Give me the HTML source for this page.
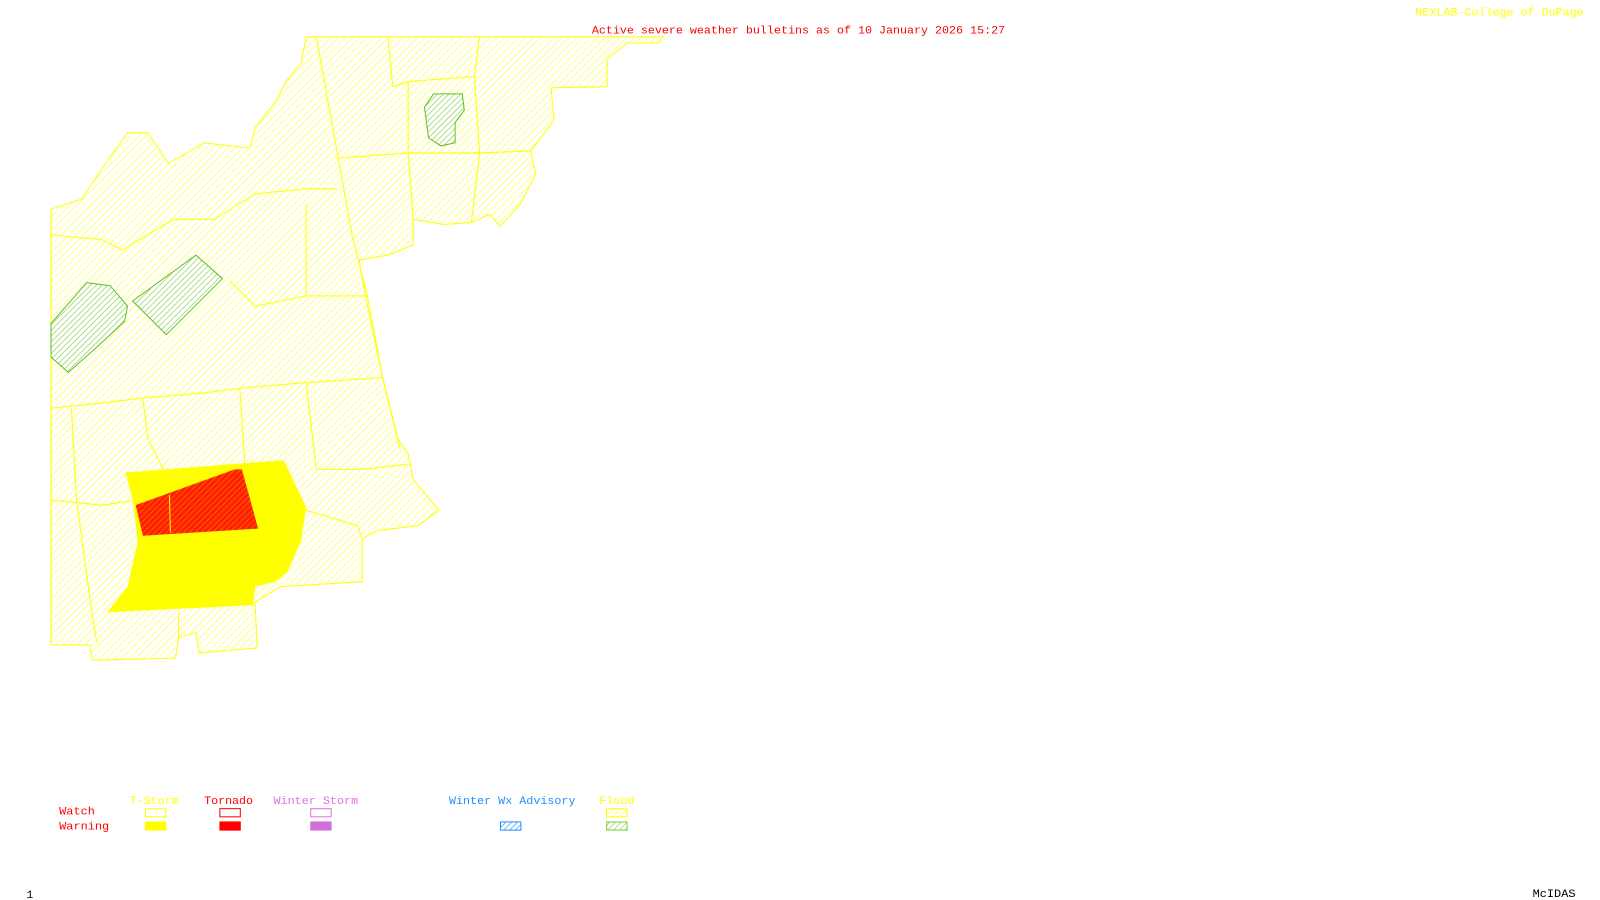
<!DOCTYPE html>
<html><head><meta charset="utf-8"><style>
html,body{margin:0;padding:0;background:#fff;}
svg{display:block;}
text{font-family:"Liberation Mono",monospace;font-size:11px;}
</style></head><body>
<svg width="1600" height="900" viewBox="0 0 1568 882" preserveAspectRatio="none" xmlns="http://www.w3.org/2000/svg">
<defs>
<pattern id="hy" width="5" height="5" patternUnits="userSpaceOnUse" patternTransform="rotate(45)">
<rect width="5" height="5" fill="#fff"/><line x1="0" y1="0" x2="0" y2="5" stroke="#ffff60" stroke-width="1.5"/></pattern>
<pattern id="hg" width="4" height="4" patternUnits="userSpaceOnUse" patternTransform="rotate(45)">
<rect width="4" height="4" fill="#fff"/><line x1="0" y1="0" x2="0" y2="4" stroke="#80cc40" stroke-width="1.2"/></pattern>
<pattern id="hr" width="4" height="4" patternUnits="userSpaceOnUse" patternTransform="rotate(45)">
<rect width="4" height="4" fill="#ff2000"/><line x1="0" y1="0" x2="0" y2="4" stroke="#ff9000" stroke-width="1"/></pattern>
<pattern id="hb" width="4" height="4" patternUnits="userSpaceOnUse" patternTransform="rotate(45)">
<rect width="4" height="4" fill="#fff"/><line x1="0" y1="0" x2="0" y2="4" stroke="#2090ff" stroke-width="1.2"/></pattern>
</defs>
<polygon fill="url(#hy)" stroke="#ffff00" stroke-width="1" points="300,36 650,36 645,42 615,42 595,58 595,85 540,86 543,118 520,148 525,170 510,200 490,222 480,210 462,218 435,220 405,215 405,240 380,250 352,255 358,290 375,370 390,430 400,445 405,470 430,500 410,515 370,520 355,528 355,570 275,575 250,590 252,635 195,640 192,620 175,625 172,645 90,647 88,632 50,632 50,205 80,195 100,165 125,130 145,130 165,160 200,140 245,145 250,125 270,100 280,80 295,62"/>
<g fill="none" stroke="#ffff00" stroke-width="1">
<polyline points="310,36 345,230 360,290 375,370 392,440"/>
<polyline points="380,36 385,85 400,80 465,75 470,36"/>
<polyline points="330,155 400,150 465,150 520,148"/>
<polyline points="400,80 400,150 405,215"/>
<polyline points="465,75 470,150 462,218"/>
<polyline points="50,230 100,235 120,245 170,215 210,215 250,190 300,185 330,185"/>
<polyline points="50,400 100,395 140,390 200,385 240,380 300,375 375,370"/>
<polyline points="300,200 300,290 360,290"/>
<polyline points="225,275 250,300 300,290"/>
<polyline points="140,390 145,430 160,460 165,520"/>
<polyline points="235,380 240,455"/>
<polyline points="300,375 310,460 355,460 400,455"/>
<polyline points="50,490 100,495 135,490"/>
<polyline points="70,400 75,490 90,600 95,630"/>
<polyline points="300,500 350,515 355,528"/>
<polyline points="175,600 175,625"/>
</g>
<polygon fill="#ffff00" points="123,463 278,451 300,497 295,530 282,560 270,570 250,575 248,593 105,600 125,575 135,530 130,490"/>
<polygon fill="url(#hr)" points="133,495 230,460 237,460 253,518 140,525"/>
<line x1="166" y1="485" x2="167" y2="522" stroke="#ffff00"/>
<g stroke="#60c020" stroke-width="1">
<polygon fill="url(#hg)" points="416,105 425,92 453,92 455,108 446,120 446,140 432,143 420,135"/>
<polygon fill="url(#hg)" points="130,295 192,250 218,273 163,328"/>
<polygon fill="url(#hg)" points="50,317 85,277 108,280 125,300 122,315 95,340 67,365 50,350"/>
</g>
<text x="580" y="33" fill="#ff0000" textLength="405" lengthAdjust="spacingAndGlyphs">Active severe weather bulletins as of 10 January 2026 15:27</text>
<text x="1387" y="15" fill="#ffff00" textLength="165" lengthAdjust="spacingAndGlyphs">NEXLAB-College of DuPage</text>
<text x="26" y="880" fill="#000">1</text>
<text x="1502" y="879" fill="#000" textLength="42" lengthAdjust="spacingAndGlyphs">McIDAS</text>
<text x="127" y="788" fill="#ffff00" textLength="48" lengthAdjust="spacingAndGlyphs">T-Storm</text>
<text x="200" y="788" fill="#ff0000" textLength="48" lengthAdjust="spacingAndGlyphs">Tornado</text>
<text x="268" y="788" fill="#e070e0" textLength="83" lengthAdjust="spacingAndGlyphs">Winter Storm</text>
<text x="440" y="788" fill="#2090ff" textLength="124" lengthAdjust="spacingAndGlyphs">Winter Wx Advisory</text>
<text x="587" y="788" fill="#ffff00" textLength="35" lengthAdjust="spacingAndGlyphs">Flood</text>
<text x="58" y="798" fill="#ff0000" textLength="35" lengthAdjust="spacingAndGlyphs">Watch</text>
<text x="58" y="813" fill="#ff0000" textLength="49" lengthAdjust="spacingAndGlyphs">Warning</text>
<rect x="142.5" y="792.5" width="20" height="8" fill="none" stroke="#ffff00"/>
<rect x="142" y="805" width="21" height="9" fill="#ffff00"/>
<rect x="215.5" y="792.5" width="20" height="8" fill="none" stroke="#ff0000"/>
<rect x="215" y="805" width="21" height="9" fill="#ff0000"/>
<rect x="304.5" y="792.5" width="20" height="8" fill="none" stroke="#e070e0"/>
<rect x="304" y="805" width="21" height="9" fill="#d070d8"/>
<rect x="490.5" y="805.5" width="20" height="8" fill="url(#hb)" stroke="#2090ff"/>
<rect x="594.5" y="792.5" width="20" height="8" fill="url(#hy)" stroke="#ffff00"/>
<rect x="594.5" y="805.5" width="20" height="8" fill="url(#hg)" stroke="#80cc40"/>
</svg>
</body></html>
